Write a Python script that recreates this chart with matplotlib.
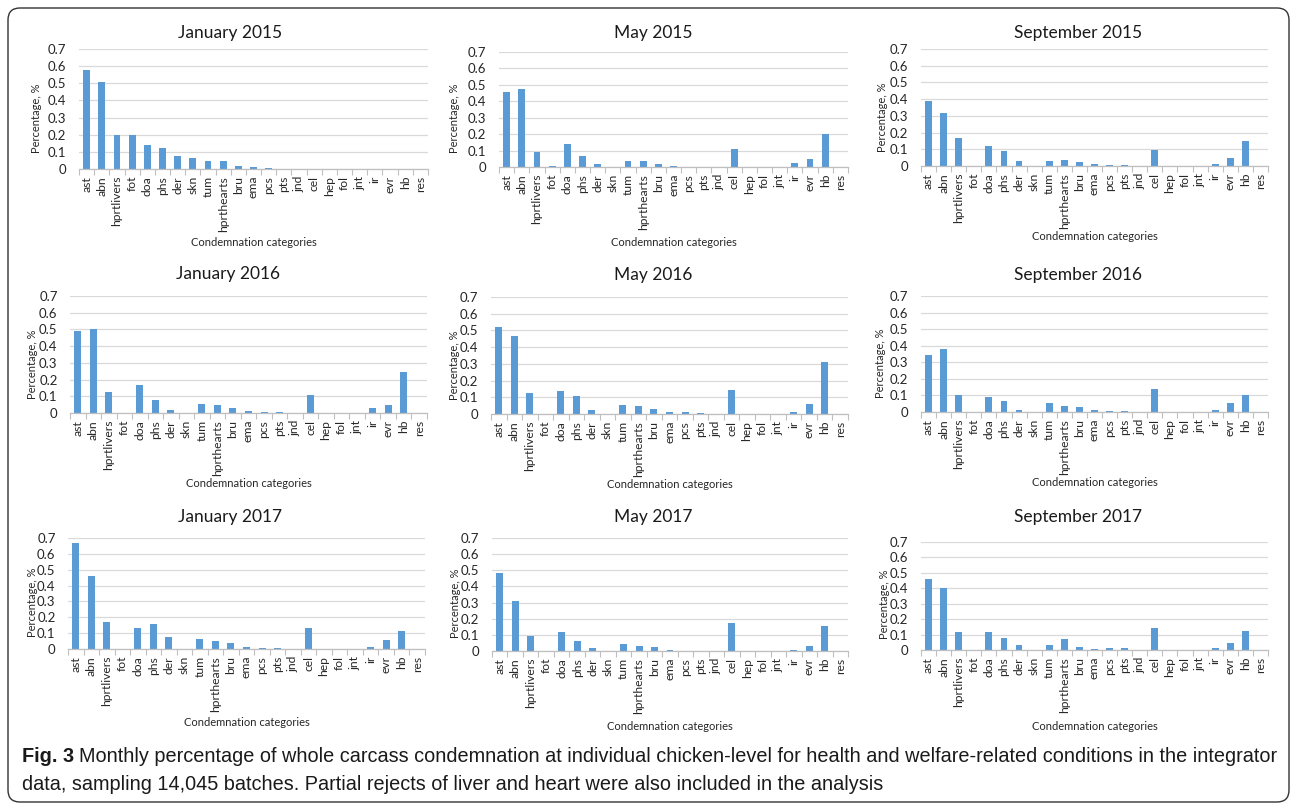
import matplotlib
matplotlib.use("Agg")
import matplotlib.pyplot as plt
from matplotlib.patches import FancyBboxPatch
from matplotlib import font_manager

# Condemnation categories (x axis)
categories = ["ast", "abn", "hprtlivers", "fot", "doa", "phs", "der", "skn", "tum",
              "hprthearts", "bru", "ema", "pcs", "pts", "jnd", "cel", "hep", "fol",
              "jnt", "ir", "evr", "hb", "res"]

# Percentage of whole carcass condemnation per month (%)
jan_2015 = [0.58, 0.51, 0.20, 0.20, 0.14, 0.122, 0.075, 0.063, 0.047, 0.046, 0.02, 0.012,
            0.008, 0, 0, 0, 0, 0, 0, 0, 0, 0, 0]
may_2015 = [0.455, 0.477, 0.089, 0.007, 0.14, 0.069, 0.018, 0, 0.036, 0.035, 0.018, 0.007,
            0, 0, 0, 0.107, 0, 0, 0, 0.022, 0.046, 0.20, 0]
sep_2015 = [0.39, 0.318, 0.166, 0, 0.122, 0.09, 0.027, 0, 0.031, 0.035, 0.021, 0.011,
            0.007, 0.005, 0, 0.094, 0, 0, 0, 0.013, 0.046, 0.148, 0]
jan_2016 = [0.49, 0.50, 0.125, 0, 0.168, 0.08, 0.02, 0, 0.052, 0.05, 0.03, 0.01,
            0.006, 0.006, 0, 0.108, 0, 0, 0, 0.027, 0.045, 0.243, 0]
may_2016 = [0.52, 0.467, 0.128, 0, 0.14, 0.107, 0.022, 0, 0.055, 0.048, 0.028, 0.01,
            0.01, 0.006, 0, 0.143, 0, 0, 0, 0.01, 0.058, 0.31, 0]
sep_2016 = [0.343, 0.382, 0.105, 0, 0.09, 0.065, 0.015, 0, 0.055, 0.037, 0.03, 0.01,
            0.004, 0.005, 0, 0.14, 0, 0, 0, 0.01, 0.057, 0.10, 0]
jan_2017 = [0.67, 0.46, 0.172, 0, 0.133, 0.155, 0.078, 0, 0.063, 0.053, 0.037, 0.01,
            0.008, 0.008, 0, 0.13, 0, 0, 0, 0.01, 0.057, 0.113, 0]
may_2017 = [0.485, 0.312, 0.09, 0, 0.118, 0.06, 0.018, 0, 0.045, 0.032, 0.023, 0.006,
            0.003, 0.003, 0, 0.175, 0, 0, 0, 0.006, 0.032, 0.155, 0]
sep_2017 = [0.462, 0.40, 0.117, 0, 0.117, 0.075, 0.035, 0, 0.035, 0.07, 0.02, 0.006,
            0.01, 0.01, 0, 0.143, 0, 0, 0, 0.013, 0.045, 0.12, 0]

titles = ["January 2015", "May 2015", "September 2015",
          "January 2016", "May 2016", "September 2016",
          "January 2017", "May 2017", "September 2017"]
series = [jan_2015, may_2015, sep_2015, jan_2016, may_2016, sep_2016,
          jan_2017, may_2017, sep_2017]

y_ticks = [0, 0.1, 0.2, 0.3, 0.4, 0.5, 0.6, 0.7]
y_tick_labels = ["0", "0.1", "0.2", "0.3", "0.4", "0.5", "0.6", "0.7"]

W, H = 1295, 806
plt.rcParams["font.family"] = ["Lato", "DejaVu Sans"]
fig = plt.figure(figsize=(W / 100, H / 100), dpi=100)

# plot areas in pixels: left, top, right, bottom
boxes = [(79, 49, 428, 169), (499, 52, 848, 167), (921, 49, 1268, 166),
         (70, 296, 427, 413), (491, 297, 848, 414), (921, 296, 1268, 412),
         (68, 538, 425, 649), (492, 538, 848, 651), (921, 542, 1268, 650)]
title_pos = [(230, 33), (653, 33), (1078, 33),
             (228, 274), (653, 275), (1078, 275),
             (230, 517), (653, 517), (1078, 517)]
ylabel_x = [36, 455, 882, 33, 455, 881, 33, 456, 885]
xlabel_y = [242, 242, 237, 483, 484, 482, 723, 726, 726]

BAR = "#5B9BD5"
GRID = "#d9d9d9"
TXT = "#262626"

def fx(px):
    return px / W

def fy(py):
    return 1 - py / H

x = list(range(len(categories)))
for i, (title, vals) in enumerate(zip(titles, series)):
    l, t, r, b = boxes[i]
    ax = fig.add_axes([fx(l), fy(b), (r - l) / W, (b - t) / H])
    ax.bar(x, vals, width=0.45, color=BAR, zorder=3)
    ax.set_xlim(-0.5, len(categories) - 0.5)
    ax.set_ylim(0, 0.7)
    ax.set_yticks(y_ticks)
    ax.set_yticklabels(y_tick_labels, fontsize=9.5, color=TXT)
    ax.set_xticks(x)
    ax.set_xticklabels(categories, rotation=90, fontsize=8.7, color=TXT)
    ax.set_xticks([k - 0.5 for k in range(len(categories) + 1)], minor=True)
    ax.tick_params(axis="x", which="major", length=0, pad=5)
    ax.tick_params(axis="x", which="minor", length=4, color="#bfbfbf", width=0.8)
    ax.tick_params(axis="y", length=0, pad=9)
    ax.grid(axis="y", color=GRID, linewidth=0.9, zorder=0)
    for s in ("top", "right", "left"):
        ax.spines[s].set_visible(False)
    ax.spines["bottom"].set_color("#bfbfbf")
    ax.spines["bottom"].set_linewidth(0.9)
    ax.spines["bottom"].set_zorder(4)
    # axis labels
    ax.text((ylabel_x[i] - l) / (r - l), 0.42, "Percentage, %", rotation=90,
            transform=ax.transAxes, ha="center", va="center", fontsize=8, color=TXT)
    fig.text(fx((l + r) / 2), fy(xlabel_y[i]), "Condemnation categories",
             ha="center", va="center", fontsize=8, color=TXT)
    tx, ty = title_pos[i]
    fig.text(fx(tx), fy(ty), title, ha="center", va="center", fontsize=12.5, color="#1a1a1a")

# rounded frame around the figure
frame = FancyBboxPatch((8 / 100, (H - 802) / 100), (1289 - 8) / 100, (802 - 8) / 100,
                       boxstyle="round,pad=0,rounding_size=0.12",
                       transform=fig.dpi_scale_trans, fill=False,
                       edgecolor="#333333", linewidth=1.0)
fig.patches.append(frame)

# caption
names = {f.name for f in font_manager.fontManager.ttflist}
cap_family = ["Liberation Sans Narrow"] if "Liberation Sans Narrow" in names else ["Liberation Sans"]
cap_size = 14.3
fig.canvas.draw()
renderer = fig.canvas.get_renderer()
lead = fig.text(fx(22), fy(757), "Fig. 3", fontsize=cap_size, fontweight="bold",
                family=cap_family, ha="left", va="center", color="#1a1a1a")
bb = lead.get_window_extent(renderer=renderer)
fig.text(bb.x1 / W + fx(5), fy(757),
         "Monthly percentage of whole carcass condemnation at individual chicken-level "
         "for health and welfare-related conditions in the integrator",
         fontsize=cap_size, family=cap_family, ha="left", va="center", color="#1a1a1a")
fig.text(fx(22), fy(785),
         "data, sampling 14,045 batches. Partial rejects of liver and heart were also "
         "included in the analysis",
         fontsize=cap_size, family=cap_family, ha="left", va="center", color="#1a1a1a")

fig.savefig("out.png", dpi=100)
